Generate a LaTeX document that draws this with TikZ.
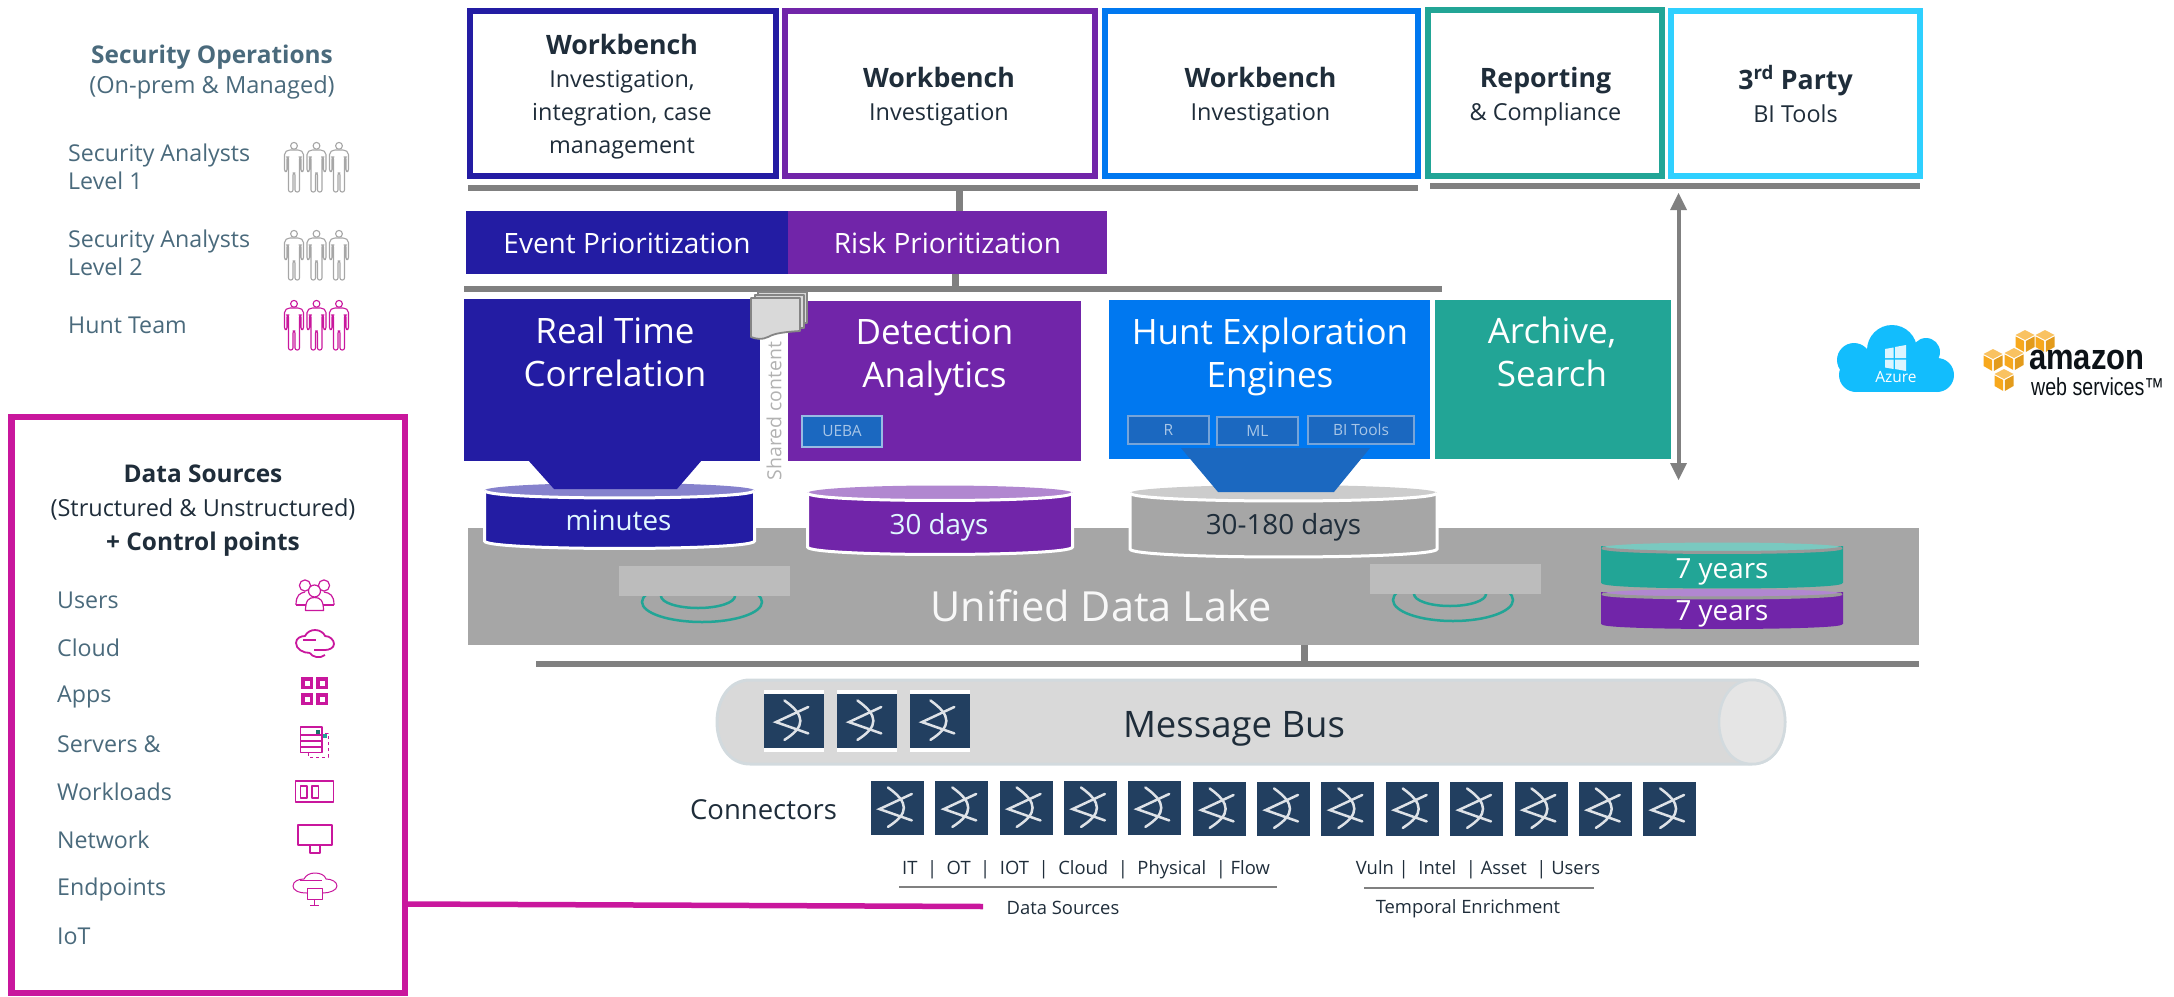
\documentclass[tikz,border=0pt]{standalone}
\usepackage{fontspec}
\usetikzlibrary{calc}
\setmainfont{Open Sans}
\newfontfamily\awsfont{Liberation Sans}
\definecolor{navy}{HTML}{231CA3}
\definecolor{purp}{HTML}{7125A9}
\definecolor{blu}{HTML}{0078F0}
\definecolor{teal2}{HTML}{22A596}
\definecolor{cyan2}{HTML}{2FD0FF}
\definecolor{lake}{HTML}{A6A6A6}
\definecolor{barg}{HTML}{808080}
\definecolor{mag}{HTML}{C9179D}
\definecolor{slate}{HTML}{4A6A7C}
\definecolor{inkd}{HTML}{1F2D3A}
\definecolor{logob}{HTML}{223F60}
\definecolor{subf}{HTML}{1B68C0}
\definecolor{azure}{HTML}{12BDFD}
\definecolor{awso}{HTML}{F7A81D}
\newcommand{\fsz}[2]{\fontsize{#1}{#2}\selectfont}
\newcommand{\rbox}[6][]{\node[rectangle,inner sep=0pt,outer sep=0pt,minimum width={#5-#3},minimum height={#6-#4},#1] (#2) at ({(#3+#5)/2},{(#4+#6)/2})}
\newcommand{\xlogo}[4][]{%
  \rbox[fill=logob,#1]{#2}{#3}{#4}{#3+53}{#4+54}{};
  \begin{scope}[shift={(#3,#4)},x=0.53pt,y=-0.54pt]
    \draw[logostroke] (32,12) .. controls (72,40) and (72,60) .. (32,85);
    \draw[logostroke] (77,24) -- (16,52) -- (77,73);
  \end{scope}}
\newcommand{\person}[3]{%
  \begin{scope}[shift={(#1,#2)}]
    \draw[#3,line width=1.1pt,line join=round] (0,3.8) circle [radius=3.4];
    \draw[#3,line width=1.1pt,line join=round,rounded corners=2pt]
      (-6,8) -- (-9.5,10.5) -- (-9.5,29.5) -- (-7,29.5) -- (-7,15) -- (-5.5,15) -- (-5.5,50) -- (-1,50) -- (-1,31) -- (1,31) -- (1,50) -- (5.5,50) -- (5.5,15) -- (7,15) -- (7,29.5) -- (9.5,29.5) -- (9.5,10.5) -- (6,8) -- cycle;
  \end{scope}}
% x1 x2 ytop ybody ry body topcolour stroke bodystroke
\newcommand{\cyl}[9]{%
  \draw[#9,line width=3pt,fill=#6] (#1,#3) -- (#1,#4)
     .. controls (#1,#4+1.33*#5) and (#2,#4+1.33*#5) .. (#2,#4) -- (#2,#3) -- cycle;
  \fill[#7] ({(#1+#2)/2},#3) ellipse [x radius={(#2-#1)/2}, y radius=#5];
  \draw[#8,line width=3pt] (#1,#3) .. controls (#1,#3+1.33*#5) and (#2,#3+1.33*#5) .. (#2,#3);}
\newcommand{\cube}[2]{%
  \begin{scope}[shift={(#1,#2)}]
    \fill[awso!70!white] (0,-11) -- (9.5,-6) -- (0,-1) -- (-9.5,-6) -- cycle;
    \fill[awso] (-9.5,-4.6) -- (-0.8,0) -- (-0.8,11) -- (-9.5,6) -- cycle;
    \fill[awso!92!black] (9.5,-4.6) -- (0.8,0) -- (0.8,11) -- (9.5,6) -- cycle;
  \end{scope}}
\tikzset{
  logostroke/.style={draw=white!85!logob,line width=2.5pt,line cap=round},
  txt/.style={inner sep=0pt,align=center},
  lbl/.style={txt,anchor=west,text=slate,align=left,font=\fsz{23.2}{28}},
  outbox/.style={line width=6pt,fill=white},
  headtxt/.style={txt,text=inkd,font=\fsz{23.4}{33}},
  prio/.style={txt,text=white,font=\fsz{28}{32}},
  engine/.style={txt,text=white,font=\fsz{35}{43}},
  subbox/.style={draw=#1,line width=2.5pt,fill=subf,text=white!62!subf,font=\fsz{15.5}{18}},
  busbar/.style={fill=barg},
  busline/.style={barg,line width=7pt},
  icon/.style={mag,line width=1.2pt,line join=round},
  cyltxt/.style={txt,font=\fsz{27.8}{32}},
  smalltxt/.style={txt,text=inkd,font=\fsz{18.4}{22}},
}
\begin{document}
\begin{tikzpicture}[x=1pt,y=-1pt]
\useasboundingbox (0,0) rectangle (2174,996);
% ---------- left panel: Security Operations
\node[txt,text=slate,font=\fsz{23.6}{30}] (secop) at (212,72.5) {\textbf{\fsz{24.4}{30}Security Operations}\\(On-prem \& Managed)};
\node[lbl] (l1) at (68,167) {Security Analysts\\Level 1};
\node[lbl] (l2) at (68,253) {Security Analysts\\Level 2};
\node[lbl] (l3) at (68,325) {Hunt Team};
\foreach \px in {294,316.5,339}{
  \person{\px}{142}{lake}
  \person{\px}{230}{lake}
  \person{\px}{300}{mag}
}
% ---------- Data sources panel
\rbox[draw=mag,line width=6.5pt,fill=white]{dsbox}{11.5}{417}{405}{993}{};
\node[txt,text=inkd,font=\fsz{23.5}{34}] (dstitle) at (203,511) {\textbf{\fsz{24.4}{34}Data Sources}\\(Structured \& Unstructured)\\\textbf{\fsz{24.4}{34}+ Control points}};
\node[lbl] (d1) at (57,600) {Users};
\node[lbl] (d2) at (57,648) {Cloud};
\node[lbl] (d3) at (57,697) {Apps};
\node[lbl] (d4) at (57,744) {Servers \&};
\node[lbl] (d5) at (57,792) {Workloads};
\node[lbl] (d6) at (57,840) {Network};
\node[lbl] (d7) at (57,889) {Endpoints};
\node[lbl] (d8) at (57,936) {IoT};
% users icon
\draw[icon] (305,585.5) circle [radius=5.6];
\draw[icon] (324,585.5) circle [radius=5.6];
\draw[icon,fill=white] (314.5,591) circle [radius=6];
\draw[icon] (296,605) .. controls (296,595) and (300,593) .. (305,592) ;
\draw[icon] (334,605) .. controls (334,595) and (330,593) .. (324,592) ;
\draw[icon] (296,605) -- (306,605);
\draw[icon] (334,605) -- (323,605);
\draw[icon,fill=white] (305.5,610.5) .. controls (305.5,600) and (309,597.5) .. (314.5,597.5) .. controls (320,597.5) and (323.5,600) .. (323.5,610.5) -- cycle;
% cloud icon
\draw[icon,line width=1.8pt] (310,653) .. controls (303,653) and (296,649) .. (296,643) .. controls (296,638) and (301,636) .. (305,636) .. controls (307,632) and (311,630) .. (315,630) .. controls (320,630) and (324,633) .. (325,636) .. controls (330,636) and (334,640) .. (334,644) .. controls (334,648) and (329,650) .. (325,650) -- (314,650);
\draw[icon,line width=1.8pt] (303,640) -- (316,640);
\draw[icon,line width=1.8pt] (310,653) .. controls (312,657) and (320,659) .. (325,655);
% apps icon
\foreach \ax/\ay in {301/677,316/677,301/693,316/693}{
  \draw[mag,line width=3.5pt] (\ax+1.75,\ay+1.75) rectangle (\ax+10.25,\ay+10.25);
}
% servers icon
\draw[icon,line width=1pt,dashed] (308,753) -- (308,757) -- (328,757) -- (328,733) -- (322,733);
\draw[icon,fill=white] (300.5,727) rectangle (322,752.5);
\draw[icon] (300.5,735) -- (322,735) (300.5,741) -- (322,741) (300.5,747) -- (322,747);
\fill[teal2!70!black] (316,729.5) rectangle (320,733.5);
\fill[teal2] (322.5,734) rectangle (326.5,737.5);
% workloads icon
\draw[icon] (295.5,781) rectangle (333.5,802);
\draw[icon] (300.5,786) rectangle (307,798);
\draw[icon] (312,786) rectangle (318.5,798);
% network icon
\draw[icon] (298,825) rectangle (332,845);
\draw[icon] (310,845) rectangle (320,853);
% endpoints icon
\draw[icon,line width=1pt] (307,893) .. controls (298,893) and (293,890) .. (293,886) .. controls (293,881) and (299,879) .. (304,879) .. controls (306,875) and (310,873) .. (315,873) .. controls (320,873) and (325,875) .. (326,879) .. controls (332,879) and (337,882) .. (337,886) .. controls (337,890) and (330,893) .. (323,893);
\draw[icon,line width=1pt] (300,880) -- (322,880);
\draw[icon,line width=1pt] (307,888) rectangle (322,899);
\draw[icon,line width=1pt] (314.5,899) -- (314.5,905) (310,905) -- (319,905);
% ---------- top row boxes
\rbox[outbox,draw=navy]{wb1}{470}{11}{776}{176}{};
\rbox[outbox,draw=purp]{wb2}{785}{11}{1095}{176}{};
\rbox[outbox,draw=blu]{wb3}{1105}{11}{1418}{176}{};
\rbox[outbox,draw=teal2]{rep}{1428}{10}{1662}{176}{};
\rbox[outbox,draw=cyan2]{bi}{1671}{11}{1920}{176}{};
\node[headtxt] (wb1t) at (622,97) {\textbf{\fsz{26.7}{33}Workbench}\\Investigation,\\integration, case\\management};
\node[headtxt] (wb2t) at (939,97) {\textbf{\fsz{26.7}{33}Workbench}\\Investigation};
\node[headtxt] (wb3t) at (1260.5,97) {\textbf{\fsz{26.7}{33}Workbench}\\Investigation};
\node[headtxt] (rept) at (1545.5,97) {\textbf{\fsz{26.7}{33}Reporting}\\\& Compliance};
\node[headtxt] (bit) at (1795.5,94) {\textbf{\fsz{26.7}{33}3\textsuperscript{rd} Party}\\BI Tools};
% bars
\rbox[busbar]{bar1}{468}{185}{1418}{191}{};
\rbox[busbar]{bar2}{1430}{183}{1920}{189}{};
\rbox[busbar]{bar3}{464}{286}{1442}{292}{};
\rbox[busbar]{bar4}{535.5}{661}{1919}{667}{};
% prioritization
\rbox[fill=navy]{evt}{466}{211}{788}{274}{};
\rbox[fill=purp]{risk}{788}{211}{1107}{274}{};
\node[prio] (evtt) at (627,243) {Event Prioritization};
\node[prio] (riskt) at (947.5,243) {Risk Prioritization};
\coordinate (s1) at (959,0);
\coordinate (s2) at (955,0);
\coordinate (s3) at (1304.5,0);
\draw[busline] (s1 |- bar1.south) -- (s1 |- risk.north);
\draw[busline] (s2 |- risk.south) -- (s2 |- bar3.north);
% ---------- Lake
\rbox[fill=lake]{lakeb}{468}{528}{1919}{645}{};
\draw[busline] (s3 |- lakeb.south) -- (s3 |- bar4.north);
\node[txt,text=white!92!lake,font=\fsz{41.5}{50}] (laket) at (1101,606) {Unified Data Lake};
\draw[teal2,line width=2.5pt] (702,602) ellipse [x radius=60, y radius=20];
\draw[teal2,line width=2.5pt] (698,596) ellipse [x radius=37, y radius=12];
\draw[teal2,line width=2.5pt] (1453,600) ellipse [x radius=60, y radius=21];
\draw[teal2,line width=2.5pt] (1450,594) ellipse [x radius=36, y radius=12];
\rbox[fill=white!25!lake]{lr1}{619}{566}{790}{596}{};
\rbox[fill=white!25!lake]{lr2}{1370}{564}{1541}{594}{};
% ---------- Cylinders
\cyl{484.5}{754.5}{490.5}{541}{7.5}{navy}{navy!55!white}{white}{white}
\cyl{807.5}{1072.5}{493}{547}{7.5}{purp}{purp!55!white}{white}{white}
\cyl{1130}{1437}{493}{549}{8}{lake}{white!80!black}{white}{white}
\cyl{1602.5}{1841.5}{547.5}{582}{5}{teal2}{teal2!60!white}{white!60!black}{teal2}
\cyl{1602.5}{1841.5}{593.5}{623}{4.5}{purp}{purp!55!white}{white!60!black}{purp}
\node[cyltxt,text=white!85!cyan2] (ct1) at (618.5,520) {minutes};
\node[cyltxt,text=white!85!cyan2] (ct2) at (939,527) {30 days};
\node[cyltxt,text=inkd] (ct3) at (1283.5,527.5) {30-180 days};
\node[cyltxt,text=white] (ct4) at (1722,571.5) {7 years};
\node[cyltxt,text=white] (ct5) at (1722,613.5) {7 years};
% ---------- Engines
\fill[navy] (528,460) -- (702,460) -- (677,489) -- (554,489) -- cycle;
\rbox[fill=navy]{rtc}{464}{299}{760}{461}{};
\rbox[fill=purp]{det}{788}{301}{1081}{461}{};
\rbox[fill=blu]{hunt}{1109}{300}{1430}{459}{};
\rbox[fill=teal2]{arch}{1435}{300}{1671}{459}{};
\fill[subf] (1181,448) -- (1370,448) -- (1334,492) -- (1218,492) -- cycle;
\node[engine] (rtct) at (615,352) {Real Time\\Correlation};
\node[engine] (dett) at (934.5,357.5) {Detection\\Analytics};
\node[engine] (huntt) at (1270,356.5) {Hunt Exploration\\Engines};
\node[engine] (archt) at (1552,351.5) {Archive,\\Search};
\rbox[subbox=white!55!subf]{ueba}{802}{416}{882}{447}{UEBA};
\rbox[subbox=white!40!subf]{rb}{1128}{416}{1209}{444}{R};
\rbox[subbox=white!40!subf]{ml}{1217}{417}{1298}{445}{ML};
\rbox[subbox=white!40!subf]{bit2}{1308}{416}{1414}{444}{BI Tools};
% shared content
\node[txt,rotate=90,text=white!70!black,font=\fsz{19.5}{24}] (shared) at (774,411) {Shared content};
\begin{scope}[draw=white!52!black,fill=white!85!black,line width=1.8pt,line join=round]
  \filldraw (758,292) rectangle (807,323);
  \filldraw (755,295) rectangle (804,328);
  \filldraw (751,298) -- (800,298) -- (800,331) .. controls (785,332) and (775,333) .. (768,337) .. controls (762,340) and (756,339) .. (751,337) -- cycle;
\end{scope}
% ---------- Cross-stack arrow
\coordinate (ax) at (1678.5,0);
\coordinate (abot) at (1678.5,480);
\draw[barg,line width=4pt] ($(ax |- bar2.south)+(0,14)$) -- ($(abot)+(0,-14)$);
\fill[barg] (1678.5,193) -- (1687,210) -- (1670,210) -- cycle;
\fill[barg] (abot) -- (1670,463) -- (1687,463) -- cycle;
% ---------- Azure / AWS
\begin{scope}
\fill[azure] (1854,360) circle [radius=17] (1892,350) circle [radius=25] (1926,352) circle [radius=14] (1937,375) circle [radius=17] (1856,375) circle [radius=17];
\fill[azure] (1856,358) rectangle (1937,392);
\fill[white!85!azure] (1885,349) -- (1893.5,347.5) -- (1893.5,358) -- (1885,358) -- cycle;
\fill[white!85!azure] (1895,347) -- (1906,345) -- (1906,358) -- (1895,358) -- cycle;
\fill[white!85!azure] (1885,359.5) -- (1893.5,359.5) -- (1893.5,369) -- (1885,367.5) -- cycle;
\fill[white!85!azure] (1895,359.5) -- (1906,359.5) -- (1906,371) -- (1895,369) -- cycle;
\end{scope}
\node[txt,text=white,font=\fsz{15.5}{19}] (azt) at (1896,377.5) {Azure};
\cube{2025}{341}\cube{2045}{341}\cube{1993}{360}\cube{2014}{359}\cube{2004}{380}
\node[txt,anchor=west,xscale=0.86,text=inkd!40!black,font={\awsfont\bfseries\fsz{36}{40}}] (amz) at (2029,360) {amazon};
\node[txt,anchor=west,xscale=0.8,text=inkd!40!black,font={\awsfont\fsz{24.5}{28}}] (aws) at (2031,387) {web services™};
% ---------- Message bus
\draw[white!75!slate,line width=3pt,fill=white!85!black] (750,680) -- (1752,680) .. controls (1796,680) and (1796,764) .. (1752,764) -- (750,764) .. controls (706,764) and (706,680) .. (750,680) -- cycle;
\draw[white!75!slate,line width=2.5pt,fill=white!90!black] (1752,680) .. controls (1796,680) and (1796,764) .. (1752,764) .. controls (1708,764) and (1708,680) .. (1752,680) -- cycle;
\node[txt,text=inkd,font=\fsz{36.5}{42}] (mbus) at (1234,729) {Message Bus};
\foreach \n/\ix in {1/764,2/837,3/910}{
  \rbox[fill=white]{bf\n}{\ix}{690}{\ix+60}{752}{};
  \xlogo{bl\n}{\ix+3.5}{694}
}
\node[txt,text=inkd,font=\fsz{27.5}{32}] (conn) at (763.5,810) {Connectors};
\foreach \n in {1,...,13}{
  \pgfmathsetmacro{\cx}{871+(\n-1)*64.35}
  \pgfmathsetmacro{\cy}{\n<6 ? 781 : 782}
  \xlogo{cn\n}{\cx}{\cy}
}
% ---------- Labels under connectors
\node[smalltxt] (dsl) at (1086,870) {IT\ \ |\ \ OT\ \ |\ \ IOT\ \ |\ \ Cloud\ \ |\ \ Physical\ \ |\ Flow};
\node[smalltxt] (tel) at (1478,870) {Vuln\ |\ \ Intel\ \ |\ Asset\ \ |\ Users};
\rbox[fill=barg]{u1}{899}{885.5}{1277}{887.5}{};
\rbox[fill=barg]{u2}{1364}{887}{1594}{889}{};
\node[smalltxt] (dsn) at (1063,908) {Data Sources};
\node[smalltxt] (ten) at (1468,909) {Temporal Enrichment};
% connector from the Data Sources panel
\coordinate (m0) at (0,904);
\coordinate (m1) at (983,906.5);
\draw[mag,line width=5.5pt] (dsbox.east |- m0) -- (m1);
\end{tikzpicture}
\end{document}
